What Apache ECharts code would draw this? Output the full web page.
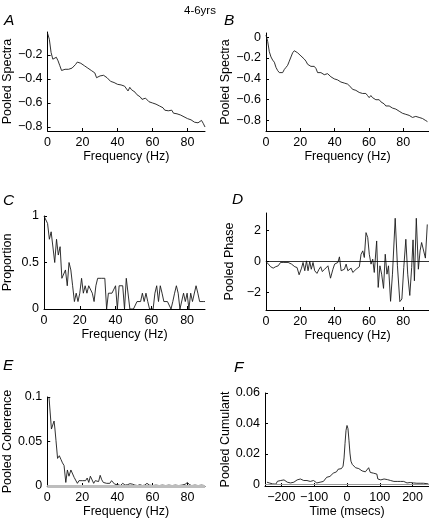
<!DOCTYPE html>
<html><head><meta charset="utf-8">
<script src="https://cdn.jsdelivr.net/npm/echarts@6/dist/echarts.min.js"></script>
<style>html,body{margin:0;padding:0;background:#fff}#c{width:429px;height:519px}</style>
</head><body><div id="c"></div>
<script>
// ---- Data ----
const freqTicks = [0, 20, 40, 60, 80];
const timeTicks = [-200, -100, 0, 100, 200];
const ticksA = [-0.8, -0.6, -0.4, -0.2];
const ticksB = [-0.8, -0.6, -0.4, -0.2, 0];
const ticksC = [0, 0.5, 1];
const ticksD = [-2, 0, 2];
const ticksE = [0, 0.05, 0.1];
const ticksF = [0, 0.02, 0.04, 0.06];

// A: pooled spectra (1 Hz steps, 0..90 Hz)
const spectraA = [-0.02,-0.07,-0.18,-0.236,-0.25,-0.22,-0.25,-0.29,-0.33,-0.33,-0.32,-0.31,-0.32,-0.31,-0.31,-0.30,-0.28,-0.26,-0.26,-0.27,-0.27,-0.29,-0.30,-0.31,-0.31,-0.33,-0.34,-0.35,-0.39,-0.38,-0.375,-0.38,-0.37,-0.375,-0.39,-0.40,-0.42,-0.425,-0.43,-0.44,-0.445,-0.445,-0.45,-0.445,-0.46,-0.47,-0.50,-0.47,-0.49,-0.50,-0.51,-0.53,-0.54,-0.55,-0.57,-0.575,-0.56,-0.575,-0.59,-0.60,-0.60,-0.60,-0.61,-0.62,-0.625,-0.63,-0.64,-0.66,-0.65,-0.665,-0.665,-0.66,-0.685,-0.675,-0.69,-0.685,-0.70,-0.71,-0.715,-0.72,-0.73,-0.735,-0.74,-0.745,-0.76,-0.76,-0.765,-0.77,-0.745,-0.77,-0.80];
const stepA = 1;

// B: pooled spectra (~0.97 Hz steps)
const spectraB = [0.02,-0.04,-0.14,-0.19,-0.22,-0.24,-0.29,-0.32,-0.34,-0.35,-0.34,-0.31,-0.29,-0.27,-0.23,-0.19,-0.15,-0.13,-0.14,-0.15,-0.16,-0.18,-0.18,-0.21,-0.23,-0.26,-0.27,-0.28,-0.29,-0.28,-0.30,-0.34,-0.34,-0.34,-0.35,-0.36,-0.37,-0.35,-0.36,-0.38,-0.39,-0.40,-0.40,-0.41,-0.42,-0.43,-0.44,-0.44,-0.45,-0.45,-0.46,-0.48,-0.50,-0.50,-0.51,-0.52,-0.53,-0.54,-0.54,-0.54,-0.54,-0.56,-0.58,-0.56,-0.58,-0.59,-0.60,-0.61,-0.60,-0.62,-0.63,-0.64,-0.66,-0.67,-0.66,-0.67,-0.68,-0.69,-0.69,-0.70,-0.71,-0.71,-0.73,-0.72,-0.74,-0.75,-0.75,-0.75,-0.77,-0.78,-0.76,-0.76,-0.77,-0.78,-0.78,-0.79,-0.80,-0.81];
const stepB = 0.97;

// C: proportion (1 Hz steps)
const proportionC = [1,1,0.92,0.75,0.83,0.83,0.5,0.75,0.58,0.67,0.33,0.33,0.42,0.25,0.5,0.42,0.25,0.08,0.17,0.08,0.17,0.33,0.17,0.25,0.17,0.25,0.25,0.17,0.08,0.25,0.33,0.33,0.33,0.33,0.33,0,0.17,0.17,0.17,0.17,0.25,0,0.25,0.25,0.25,0,0.33,0.33,0,0,0,0,0.08,0.08,0.08,0.17,0.08,0.17,0.08,0,0,0,0.17,0.25,0.08,0.25,0.17,0.08,0.08,0.08,0.08,0,0.08,0.17,0.25,0.17,0,0,0.17,0.08,0.17,0,0.17,0.08,0.08,0.25,0.17,0.08,0.08,0.08,0.08];
const stepC = 1;

// D: pooled phase
const freqD = [0,1.4,2.7,4.2,5.6,7.1,8.5,9.6,10.4,11.4,12.9,14.9,16.8,18.1,19.3,20.7,21.6,22.6,23.6,24.5,25.5,26.4,27.4,28.4,29.7,30.9,31.9,32.8,34.2,35.1,36.1,37.6,39,40,40.9,41.9,42.8,43.8,44.8,45.7,46.7,47.7,48.6,49.6,50.6,51.5,52.5,53.5,54.4,55.4,56.4,57.3,58.3,59.3,60.2,61.2,62.2,63.1,64.5,65.4,66.4,67.4,68.5,69.5,70.5,71.4,72.6,73.7,75.3,76.6,78,79.2,80.3,81.5,82.6,83.8,84.9,85.7,86.5,87.6,88.8,89.8,90.7,91.7,92.9,94];
const phaseD = [0,-0.17,-0.34,-0.43,-0.34,-0.28,-0.06,0.04,-0.06,0.04,-0.06,-0.17,-0.34,-0.39,-0.86,-0.43,-0.06,-0.6,0.04,-0.6,0,-0.5,-0.06,-0.6,-0.77,-0.5,-0.34,-0.65,-0.5,-0.39,-0.28,-1.08,-0.5,-0.17,-0.28,-0.06,0.3,-0.6,-0.65,-0.5,-0.17,-0.6,-0.65,-0.43,-0.71,-0.6,-0.5,-0.43,-0.34,0.47,0.69,0.26,1.87,1.55,0.47,-0.17,0.15,-0.71,1.33,-1.68,-0.28,-0.82,-1.74,0.47,-0.82,-0.28,-2.58,-0.82,2.8,-0.28,-2.6,-2.43,-0.39,1.44,-0.82,-2.2,-0.39,1.4,-1.25,2.8,-0.5,0.69,1.23,1.12,0.22,2.4];

// E: pooled coherence
const freqE = [1,2.4,3.1,3.9,4.4,5,5.9,6.9,7.8,8.7,9.6,10.6,11.5,12.4,13.5,14.4,15.4,16.3,17.2,18.1,19.1,20,20.9,21.9,22.8,23.7,24.6,25.6,26.5,27.4,28.3,29.3,30.2,31.1,32,33,33.9,34.8,35.7,36.7,37.6,38.5,39.4,40.4,41.7,43.1,44.4,45.9,47.2,48.7,50,51.5,52.8,54.3,55.6,56.9,58.3,60.2,62,63.9,65.7,67.6,69.4,71.3,73.1,75,76.9,78.7,80,81.1,82.4,84.3,86.1,88,89.8];
const cohE = [0.1,0.064,0.062,0.073,0.064,0.051,0.031,0.034,0.030,0.026,0.023,0.004,0.018,0.011,0.018,0.019,0.0095,0.009,0.003,0.006,0.007,0.006,0.008,0.006,0.009,0.004,0.011,0.012,0.003,0.006,0.007,0.005,0.012,0.007,0.004,0.005,0.003,0.005,0.003,0.006,0.005,0.002,0.001,0.0015,0.0005,0.003,0.001,0.0015,0.0026,0.002,0.001,0.0005,0.0015,0.0005,0.001,0.003,0.001,0.0005,0.001,0.0005,0.001,0.0005,0.001,0.0005,0.001,0.0005,0.001,0.002,0.004,0.0015,0.0005,0.001,0.0005,0.001,0.0005];
const confE = 0.0018;

// F: pooled cumulant
const timeF = [-244,-237,-232,-227,-222,-217,-212,-207,-202,-197,-192,-187,-182,-177,-172,-167,-162,-157,-152,-147,-142,-137,-132,-127,-122,-117,-112,-107,-102,-97,-92,-87,-82,-77,-72,-67,-62,-57,-52,-47,-42,-37,-32,-27,-22,-17,-12,-9,-6,-3,0,3,6,9,12,16,21,26,31,36,41,46,51,56,61,66,71,76,81,86,91,94,98,103,108,113,118,123,128,133,138,143,148,153,158,163,168,173,178,183,188,193,198,203,208,213,218,223,228,233,238,248];
const cumF = [0.0015,0.001,0.002,0.0004,0.0015,0.0002,0.0021,0.0032,0.0026,0.0032,0.003,0.0026,0.0015,0.002,0.001,0.0004,0.0015,0.002,0.003,0.0026,0.0036,0.003,0.0026,0.0034,0.0026,0.0015,0.002,0.0015,0.0026,0.002,0.001,0.002,0.0015,0.0026,0.002,0.003,0.0047,0.004,0.0053,0.0057,0.0074,0.0068,0.0083,0.010,0.011,0.0104,0.012,0.0174,0.027,0.0355,0.0387,0.0366,0.029,0.0206,0.0153,0.0132,0.012,0.011,0.0115,0.0104,0.010,0.0089,0.0096,0.0083,0.0089,0.011,0.0079,0.0083,0.0074,0.0074,0.0068,0.0036,0.0026,0.003,0.002,0.0036,0.004,0.0032,0.0036,0.0026,0.0032,0.002,0.0026,0.002,0.0015,0.002,0.001,0.002,0.0015,0.001,0.002,0.0013,0.0017,0.001,0.0015,0.0008,0.0013,0.0008,0.0015,0.0008,0.0002,0.0004];
const confF = [0.0040, 0.0021];

// ---- Chart ----
const FONT = '"Liberation Sans", Arial, Helvetica, sans-serif';
const FS = 12.5;
const fmt = v => String(v).replace('-', '\u2212');
const pairsStep = (arr, step) => arr.map((v, i) => [i * step, v]);
const pairs = (xs, ys) => xs.map((x, i) => [x, ys[i]]);

const grids = [
  {left: 43, top: 32, width: 162, height: 99},   // A
  {left: 266, top: 33, width: 164, height: 98},  // B
  {left: 43, top: 216, width: 162, height: 93},  // C
  {left: 266, top: 213, width: 164, height: 97}, // D
  {left: 43, top: 397, width: 162, height: 92},  // E
  {left: 265, top: 393, width: 166, height: 96}  // F
];

function xAx(gi, min, max, ticks, name) {
  return {type: 'value', gridIndex: gi, min, max, name, nameLocation: 'middle', nameGap: 19,
    nameTextStyle: {fontSize: FS, color: '#000', fontFamily: FONT},
    axisLine: {show: true, onZero: false, lineStyle: {color: '#000', width: 1}},
    axisTick: {show: true, inside: true, length: 3, customValues: ticks, lineStyle: {color: '#000'}},
    axisLabel: {customValues: ticks, margin: 5, fontSize: FS, color: '#000', fontFamily: FONT, formatter: fmt},
    splitLine: {show: false}};
}
function yAx(gi, min, max, ticks, name) {
  return {type: 'value', gridIndex: gi, min, max, name, nameLocation: 'middle', nameGap: 30,
    nameTextStyle: {fontSize: FS, color: '#000', fontFamily: FONT},
    axisLine: {show: true, onZero: false, lineStyle: {color: '#000', width: 1}},
    axisTick: {show: true, inside: true, length: 3, customValues: ticks, lineStyle: {color: '#000'}},
    axisLabel: {customValues: ticks, margin: 5, fontSize: FS, color: '#000', fontFamily: FONT, formatter: fmt},
    splitLine: {show: false}};
}
function ln(i, data, extra) {
  return Object.assign({type: 'line', xAxisIndex: i, yAxisIndex: i, data, symbol: 'none', silent: true,
    animation: false, lineStyle: {color: '#1a1a1a', width: 0.9}}, extra || {});
}
function hline(values, color, width) {
  return {silent: true, symbol: 'none', label: {show: false}, animation: false,
    lineStyle: {color, width, type: 'solid'},
    data: values.map(v => ({yAxis: v}))};
}

const letters = [['A', 4, 22], ['B', 224, 22], ['C', 3, 202], ['D', 232, 201], ['E', 3, 367], ['F', 234, 369]];

const option = {
  animation: false,
  grid: grids,
  xAxis: [
    xAx(0, 0, 90, freqTicks, 'Frequency (Hz)'),
    xAx(1, 0, 95, freqTicks, 'Frequency (Hz)'),
    xAx(2, 0, 90, freqTicks, 'Frequency (Hz)'),
    xAx(3, 0, 95, freqTicks, 'Frequency (Hz)'),
    xAx(4, 0, 90, freqTicks, 'Frequency (Hz)'),
    xAx(5, -250, 250, timeTicks, 'Time (msecs)')
  ],
  yAxis: [
    yAx(0, -0.833, -0.01, ticksA, 'Pooled Spectra'),
    yAx(1, -0.9, 0.04, ticksB, 'Pooled Spectra'),
    yAx(2, 0, 1, ticksC, 'Proportion'),
    yAx(3, -Math.PI, Math.PI, ticksD, 'Pooled Phase'),
    yAx(4, 0, 0.1, ticksE, 'Pooled Coherence'),
    yAx(5, -0.001, 0.06, ticksF, 'Pooled Cumulant')
  ],
  series: [
    ln(0, pairsStep(spectraA, stepA)),
    ln(1, pairsStep(spectraB, stepB)),
    ln(2, pairsStep(proportionC, stepC)),
    ln(3, pairs(freqD, phaseD), {markLine: hline([0], '#000', 0.8)}),
    ln(4, pairs(freqE, cohE), {markLine: hline([confE], '#bdbdbd', 3)}),
    ln(5, pairs(timeF, cumF), {markLine: hline(confF, '#9a9a9a', 1)})
  ],
  graphic: [
    {type: 'text', left: 184, top: 5, style: {text: '4-6yrs', font: '11.5px ' + FONT, fill: '#000'}}
  ].concat(letters.map(([t, x, y]) => ({type: 'text', left: x, top: y - 9,
    style: {text: t, font: 'italic 15.5px ' + FONT, fill: '#000'}})))
};

const chart = echarts.init(document.getElementById('c'), null, {renderer: 'canvas'});
chart.setOption(option);
</script>
</body></html>
